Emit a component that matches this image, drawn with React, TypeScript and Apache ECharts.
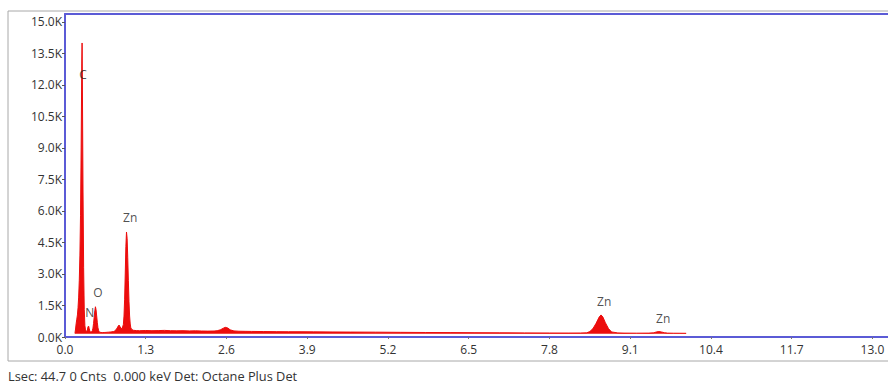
import React, { useEffect, useRef } from "react";
import * as echarts from "echarts";

const energies: number[] = [
  0.16, 0.17, 0.18, 0.19, 0.2, 0.21, 0.22, 0.23, 0.24, 0.25, 0.26, 0.27, 0.275, 0.28, 0.29, 0.3,
  0.31, 0.32, 0.33, 0.34, 0.35, 0.36, 0.37, 0.38, 0.39, 0.4, 0.41, 0.42, 0.43, 0.44, 0.45, 0.46,
  0.47, 0.48, 0.49, 0.5, 0.51, 0.52, 0.53, 0.54, 0.55, 0.56, 0.58, 0.6, 0.63, 0.66, 0.7, 0.74,
  0.78, 0.8, 0.82, 0.84, 0.86, 0.87, 0.88, 0.9, 0.92, 0.94, 0.95, 0.96, 0.97, 0.98, 0.99, 1.0,
  1.01, 1.02, 1.03, 1.04, 1.05, 1.06, 1.08, 1.1, 1.15, 1.2, 1.3, 1.4, 1.5, 1.6, 1.7, 1.8, 1.9,
  2.0, 2.1, 2.2, 2.3, 2.4, 2.45, 2.5, 2.55, 2.58, 2.62, 2.66, 2.72, 2.8, 2.9, 3.0, 3.2, 3.4, 3.6,
  3.8, 4.0, 4.3, 4.6, 5.0, 5.4, 5.8, 6.2, 6.6, 7.0, 7.4, 7.8, 8.1, 8.3, 8.4, 8.45, 8.5, 8.55,
  8.6, 8.63, 8.66, 8.7, 8.75, 8.8, 8.9, 9.0, 9.2, 9.4, 9.48, 9.52, 9.56, 9.6, 9.65, 9.7, 9.8,
  9.9, 10.0,
];

const counts: number[] = [
  170, 380, 650, 850, 1050, 1400, 1900, 2700, 3900, 5800, 9000, 13000, 14000, 12000, 7000, 3300,
  1300, 550, 340, 280, 260, 330, 480, 520, 400, 280, 240, 230, 250, 300, 420, 650,
  950, 1250, 1440, 1300, 1000, 700, 450, 320, 260, 230, 215, 210, 215, 220, 230, 240,
  260, 290, 340, 430, 540, 570, 520, 420, 400, 600, 1000, 1800, 3000, 4300, 5000, 4700,
  3800, 2700, 1700, 1000, 620, 430, 350, 320, 305, 300, 310, 300, 305, 315, 300, 295, 300,
  290, 295, 285, 280, 285, 300, 340, 420, 460, 430, 340, 290, 275, 270, 265, 260, 255, 250,
  250, 245, 240, 235, 230, 222, 215, 210, 205, 200, 195, 190, 188, 190, 200, 260, 400, 650,
  950, 1050, 950, 680, 400, 240, 195, 185, 182, 185, 200, 240, 260, 240, 205, 185, 180,
  178, 176,
];

const peakNames: string[] = ["C", "N", "O", "Zn", "Zn", "Zn"];
const peakEnergies: number[] = [0.29, 0.4, 0.53, 1.05, 8.68, 9.63];
const peakLabelHeights: number[] = [12500, 1190, 2140, 5670, 1670, 900];

const yTicks: number[] = [0, 1500, 3000, 4500, 6000, 7500, 9000, 10500, 12000, 13500, 15000];
const xTicks: number[] = [0, 1.3, 2.6, 3.9, 5.2, 6.5, 7.8, 9.1, 10.4, 11.7, 13.0];

const statusText = "Lsec: 44.7 0 Cnts \u00a00.000 keV Det: Octane Plus Det";

export default function App() {
  const ref = useRef<HTMLDivElement>(null);

  useEffect(() => {
    if (!ref.current) return;
    const chart = echarts.init(ref.current, undefined, { renderer: "svg" });
    const red = "#ec0d0d";
    const blue = "#5b5bd6";
    const font = "'Open Sans', 'Noto Sans', sans-serif";
    const specData = energies.map((e, i) => [e, counts[i]]);
    const labelData = peakNames.map((n, i) => ({ name: n, value: [peakEnergies[i], peakLabelHeights[i]] }));

    chart.setOption({
      animation: false,
      backgroundColor: "#ffffff",
      grid: {
        left: 65,
        top: 14,
        right: 0,
        bottom: 48,
        show: false,
      },
      xAxis: [
        {
          type: "value",
          min: 0,
          max: 13.25,
          interval: 1.3,
          position: "bottom",
          axisLine: { show: true, onZero: false, lineStyle: { color: blue, width: 2 } },
          axisTick: {
            show: true,
            length: 2,
            lineStyle: { color: "#777777" },
            customValues: xTicks,
          },
          splitLine: { show: false },
          axisLabel: {
            color: "#333333",
            fontSize: 12,
            fontFamily: font,
            margin: 6,
            showMaxLabel: false,
            formatter: (v: number) => {
              const hit = xTicks.find((t) => Math.abs(t - v) < 1e-6);
              return hit === undefined ? "" : hit.toFixed(1);
            },
          },
        },
        {
          type: "value",
          min: 0,
          max: 13.25,
          position: "top",
          axisLine: { show: true, onZero: false, lineStyle: { color: blue, width: 2 } },
          axisTick: { show: false },
          axisLabel: { show: false },
          splitLine: { show: false },
        },
      ],
      yAxis: {
        type: "value",
        min: 0,
        max: 15380,
        interval: 1500,
        axisLine: { show: true, onZero: false, lineStyle: { color: blue, width: 2 } },
        axisTick: { show: true, length: 3, lineStyle: { color: "#555555" }, customValues: yTicks },
        splitLine: { show: false },
        axisLabel: {
          color: "#333333",
          fontSize: 12,
          fontFamily: font,
          margin: 3,
          formatter: (v: number) => (yTicks.includes(v) ? (v / 1000).toFixed(1) + "K" : ""),
        },
      },
      graphic: [
        {
          type: "rect",
          shape: { x: 8, y: 11, width: 920, height: 350 },
          style: { fill: "none", stroke: "#a8a8a8", lineWidth: 1 },
          silent: true,
          z: -1,
        },
        {
          type: "text",
          x: 8,
          y: 376,
          style: {
            text: statusText,
            fill: "#333333",
            fontSize: 12.8,
            fontFamily: font,
            verticalAlign: "middle",
          },
        },
      ],
      series: [
        {
          type: "line",
          xAxisIndex: 0,
          data: specData,
          symbol: "none",
          clip: true,
          lineStyle: { color: red, width: 1 },
          areaStyle: { color: red, opacity: 1, origin: 150 },
          z: 2,
        },
        {
          type: "scatter",
          xAxisIndex: 0,
          data: labelData,
          symbolSize: 0,
          silent: true,
          label: {
            show: true,
            position: "inside",
            formatter: "{b}",
            color: "#222222",
            fontSize: 12,
            fontFamily: font,
          },
          z: 3,
        },
      ],
    });
    return () => chart.dispose();
  }, []);

  return (
    <div
      ref={ref}
      style={{ position: "fixed", left: 0, top: 0, width: 888, height: 385, background: "#fff" }}
    />
  );
}
